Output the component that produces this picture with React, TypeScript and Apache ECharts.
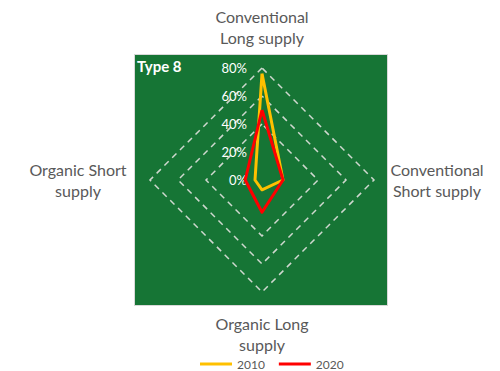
import React, { useEffect, useRef } from "react";
import * as echarts from "echarts";

// Order: top, left, bottom, right (ECharts radar runs counter-clockwise)
const indicators = [
  "Conventional\nLong supply",
  "Organic Short\nsupply",
  "Organic Long\nsupply",
  "Conventional\nShort supply",
];
const seriesNames = ["2010", "2020"];
const values2010 = [76, 5, 7, 15];
const values2020 = [50, 12, 23, 15];
const axisMax = 80;
const colors = ["#FFC000", "#FF0000"];
const title = "Type 8";

const nameGaps = [20, 22, 21, 13];

export default function App() {
  const ref = useRef<HTMLDivElement>(null);
  useEffect(() => {
    if (!ref.current) return;
    const chart = echarts.init(ref.current, null, { renderer: "svg" });
    const font = "Lato, 'Noto Sans', sans-serif";
    chart.setOption({
      animation: false,
      backgroundColor: "#ffffff",
      graphic: [
        {
          type: "rect",
          z: -10,
          shape: { x: 134.5, y: 54.5, width: 253, height: 251 },
          style: { fill: "#167535", stroke: "#d9d9d9", lineWidth: 1 },
        },
        {
          type: "text",
          left: 137,
          top: 58,
          style: {
            text: title,
            fill: "#ffffff",
            font: "bold 15px " + font,
          },
        },
      ],
      legend: {
        top: 358,
        left: 200,
        padding: 0,
        itemWidth: 32,
        itemHeight: 3,
        itemGap: 14,
        icon: "rect",
        textStyle: { color: "#595959", fontSize: 12, fontFamily: font },
        data: seriesNames,
      },
      radar: {
        center: [262, 180],
        radius: 112,
        shape: "polygon",
        splitNumber: 4,
        axisName: {
          formatter: (v: string) =>
            v
              .split("\n")
              .map((l) => "{a|" + l + "}")
              .join("\n"),
          rich: {
            a: {
              color: "#595959",
              fontSize: 16,
              fontFamily: font,
              lineHeight: 21,
              width: 100,
              align: "center",
            },
          },
        },
        nameGap: 16,
        axisLine: { show: false },
        axisTick: { show: false },
        splitArea: { show: false },
        splitLine: {
          lineStyle: {
            color: ["rgba(0,0,0,0)", "rgba(0,0,0,0)", "#cfd8cf", "#cfd8cf", "#cfd8cf"],
            type: [6, 5],
            width: 1.5,
          },
        },
        axisLabel: { show: false },
        indicator: indicators.map((name, i) => ({
          name,
          max: axisMax,
          min: 0,
          nameGap: nameGaps[i],
          axisLabel:
            i === 0
              ? {
                  show: true,
                  color: "#ffffff",
                  fontSize: 13,
                  fontFamily: font,
                  margin: 15,
                  formatter: (v: number) => v + "%",
                }
              : { show: false },
        })),
      },
      series: [
        {
          type: "radar",
          symbol: "none",
          data: [
            {
              name: seriesNames[0],
              value: values2010,
              lineStyle: { color: colors[0], width: 3 },
              itemStyle: { color: colors[0] },
            },
            {
              name: seriesNames[1],
              value: values2020,
              lineStyle: { color: colors[1], width: 3 },
              itemStyle: { color: colors[1] },
            },
          ],
        },
      ],
    });
    return () => chart.dispose();
  }, []);
  return (
    <div
      ref={ref}
      style={{ position: "fixed", left: 0, top: 0, width: 500, height: 371 }}
    />
  );
}
